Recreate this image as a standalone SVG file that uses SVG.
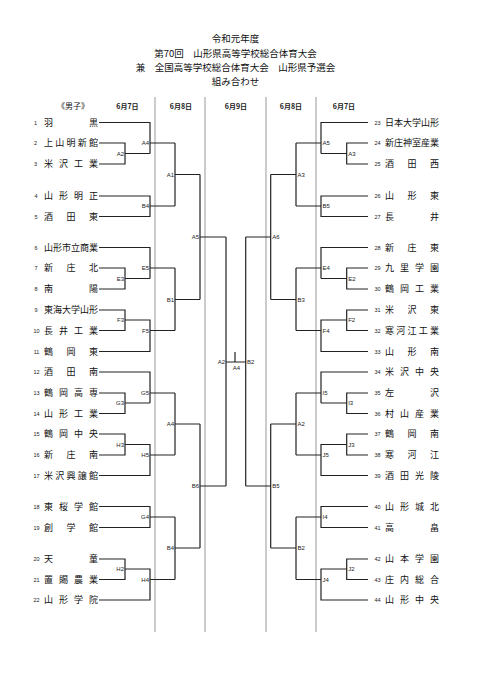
<svg xmlns="http://www.w3.org/2000/svg" width="481" height="680" viewBox="0 0 481 680">
<style>
.t{font-family:"Noto Sans CJK JP","Liberation Sans",sans-serif;font-size:9.5px;fill:#111;text-anchor:middle}
.h{font-family:"Noto Sans CJK JP","Liberation Sans",sans-serif;font-size:7px;font-weight:bold;fill:#222;text-anchor:middle}
.n{font-family:"Noto Sans CJK JP","Liberation Sans",sans-serif;font-size:9px;fill:#111}
.num{font-family:"Liberation Sans",sans-serif;font-size:5.5px;fill:#222;text-anchor:middle}
.l{font-family:"Liberation Sans",sans-serif;font-size:6px;fill:#222}
.le{text-anchor:end}
.sep{stroke:#aaa;stroke-width:1.2;fill:none}
.c{stroke:#222;stroke-width:1.2;fill:none}
</style>
<rect width="481" height="680" fill="#fff"/>
<g id="title">
<text class="t" x="235.5" y="41.6">令和元年度</text>
<text class="t" x="235.5" y="56.6">第70回　山形県高等学校総合体育大会</text>
<text class="t" x="235.5" y="71">兼　全国高等学校総合体育大会　山形県予選会</text>
<text class="t" x="235.5" y="85">組み合わせ</text>
</g>
<g id="headers">
<text class="n" x="57" y="109" style="font-size:8px">《男子》</text>
<text class="h" x="127.5" y="108.5">6月7日</text>
<text class="h" x="181" y="108.5">6月8日</text>
<text class="h" x="236" y="108.5">6月9日</text>
<text class="h" x="291" y="108.5">6月8日</text>
<text class="h" x="344" y="108.5">6月7日</text>
</g>
<g id="separators">
<path class="sep" d="M155,97V632M205,97V632M266,97V632M316,97V632"/>
</g>
<g id="connectors">
<path class="c" d="M99,122.5H150V153.5M99,143H125V164H99M125,153.5H150M150,143H175
M99,196H150V216.5H99M150,206H175M175,143V206M175,174.5H200
M99,247.5H150V278.5M99,268H125V289H99M125,278.5H150M150,268H175
M99,310H125V330.5H99M125,320H150V351.5H99M150,330.5H175
M175,268V330.5M175,299.5H200M200,174.5V299.5M200,237H226
M99,372H150V403M99,393H125V413.5H99M125,403H150M150,393H175
M99,434H125V455H99M125,444.5H150V475.5H99M150,455H175
M175,393V455M175,424H200
M99,506.5H150V527.5H99M150,517H175
M99,559H125V579.5H99M125,569H150V600H99M150,579.5H175
M175,517V579.5M175,548H200M200,424V548M200,486H226
M226,237V486M226,362H245.7M235,352V362M245.7,237V486"/>
<path class="c" d="M368,122.5H321V153.5M368,143H346.7V164H368M346.7,153.5H321M321,143H296
M368,196H321V216.5H368M321,206H296M296,143V206M296,174.5H270.7
M368,247.5H321V278.5M368,268H346.7V289H368M346.7,278.5H321M321,268H296
M368,310H346.7V330.5H368M346.7,320H321V351.5H368M321,330.5H296
M296,268V330.5M296,299.5H270.7M270.7,174.5V299.5M270.7,237H245.7
M368,372H321V403M368,393H346.7V413.5H368M346.7,403H321M321,393H296
M368,434H346.7V455H368M346.7,444.5H321V475.5H368M321,455H296
M296,393V455M296,424H270.7
M368,506.5H321V527.5H368M321,517H296
M368,559H346.7V579.5H368M346.7,569H321V600H368M321,579.5H296
M296,517V579.5M296,548H270.7M270.7,424V548M270.7,486H245.7"/>
</g>
<g id="match-labels">
<text class="l le" x="124" y="155.6">A2</text>
<text class="l le" x="149" y="145.1">A4</text>
<text class="l le" x="149" y="208.1">B4</text>
<text class="l le" x="174" y="176.6">A1</text>
<text class="l le" x="124" y="280.6">E3</text>
<text class="l le" x="149" y="270.1">E5</text>
<text class="l le" x="124" y="322.1">F3</text>
<text class="l le" x="149" y="332.6">F5</text>
<text class="l le" x="174" y="301.6">B1</text>
<text class="l le" x="199" y="239.1">A5</text>
<text class="l le" x="124" y="405.1">G3</text>
<text class="l le" x="149" y="395.1">G5</text>
<text class="l le" x="124" y="446.6">H3</text>
<text class="l le" x="149" y="457.1">H5</text>
<text class="l le" x="174" y="426.1">A4</text>
<text class="l le" x="149" y="519.1">G4</text>
<text class="l le" x="124" y="571.1">H2</text>
<text class="l le" x="149" y="581.6">H4</text>
<text class="l le" x="174" y="550.1">B4</text>
<text class="l le" x="199" y="488.1">B6</text>
<text class="l le" x="225" y="364.1">A2</text>
<text class="l" x="247" y="364.1">B2</text>
<text class="l" x="236.5" y="369.5" style="text-anchor:middle">A4</text>
<text class="l" x="348.2" y="156.1">A3</text>
<text class="l" x="322.5" y="145.1">A5</text>
<text class="l" x="322.5" y="208.1">B5</text>
<text class="l" x="297.5" y="176.6">A3</text>
<text class="l" x="348.2" y="280.6">E2</text>
<text class="l" x="322.5" y="270.1">E4</text>
<text class="l" x="348.2" y="322.1">F2</text>
<text class="l" x="322.5" y="332.6">F4</text>
<text class="l" x="297.5" y="301.6">B3</text>
<text class="l" x="272.2" y="239.1">A6</text>
<text class="l" x="348.2" y="405.1">I3</text>
<text class="l" x="322.5" y="395.1">I5</text>
<text class="l" x="348.2" y="446.6">J3</text>
<text class="l" x="322.5" y="457.1">J5</text>
<text class="l" x="297.5" y="426.1">A2</text>
<text class="l" x="322.5" y="519.1">I4</text>
<text class="l" x="348.2" y="571.1">J2</text>
<text class="l" x="322.5" y="581.6">J4</text>
<text class="l" x="297.5" y="550.1">B2</text>
<text class="l" x="272.2" y="488.1">B5</text>
</g>
<g id="team-1"><text class="num" x="35.5" y="124.5">1</text><text class="n" x="44 89" y="125.7">羽黒</text></g>
<g id="team-2"><text class="num" x="35.5" y="145">2</text><text class="n" x="44 55.25 66.5 77.75 89" y="146.2">上山明新館</text></g>
<g id="team-3"><text class="num" x="35.5" y="166">3</text><text class="n" x="44 59 74 89" y="167.2">米沢工業</text></g>
<g id="team-4"><text class="num" x="36" y="198">4</text><text class="n" x="44 59 74 89" y="199.2">山形明正</text></g>
<g id="team-5"><text class="num" x="36" y="218.5">5</text><text class="n" x="44 66.5 89" y="219.7">酒田東</text></g>
<g id="team-6"><text class="num" x="36" y="249.5">6</text><text class="n" x="44 53 62 71 80 89" y="250.7">山形市立商業</text></g>
<g id="team-7"><text class="num" x="36" y="270">7</text><text class="n" x="44 66.5 89" y="271.2">新庄北</text></g>
<g id="team-8"><text class="num" x="36" y="291">8</text><text class="n" x="44 89" y="292.2">南陽</text></g>
<g id="team-9"><text class="num" x="36" y="312">9</text><text class="n" x="44 53 62 71 80 89" y="313.2">東海大学山形</text></g>
<g id="team-10"><text class="num" x="36.5" y="332.5">10</text><text class="n" x="44 59 74 89" y="333.7">長井工業</text></g>
<g id="team-11"><text class="num" x="36.5" y="353.5">11</text><text class="n" x="44 66.5 89" y="354.7">鶴岡東</text></g>
<g id="team-12"><text class="num" x="36.5" y="374">12</text><text class="n" x="44 66.5 89" y="375.2">酒田南</text></g>
<g id="team-13"><text class="num" x="36.5" y="395">13</text><text class="n" x="44 59 74 89" y="396.2">鶴岡高専</text></g>
<g id="team-14"><text class="num" x="36.5" y="415.5">14</text><text class="n" x="44 59 74 89" y="416.7">山形工業</text></g>
<g id="team-15"><text class="num" x="36.5" y="436">15</text><text class="n" x="44 59 74 89" y="437.2">鶴岡中央</text></g>
<g id="team-16"><text class="num" x="36.5" y="457">16</text><text class="n" x="44 66.5 89" y="458.2">新庄南</text></g>
<g id="team-17"><text class="num" x="36.5" y="477.5">17</text><text class="n" x="44 55.25 66.5 77.75 89" y="478.7">米沢興譲館</text></g>
<g id="team-18"><text class="num" x="36.5" y="508.5">18</text><text class="n" x="44 59 74 89" y="509.7">東桜学館</text></g>
<g id="team-19"><text class="num" x="36.5" y="529.5">19</text><text class="n" x="44 66.5 89" y="530.7">創学館</text></g>
<g id="team-20"><text class="num" x="36.5" y="561">20</text><text class="n" x="44 89" y="562.2">天童</text></g>
<g id="team-21"><text class="num" x="36.5" y="581.5">21</text><text class="n" x="44 59 74 89" y="582.7">置賜農業</text></g>
<g id="team-22"><text class="num" x="36.5" y="602">22</text><text class="n" x="44 59 74 89" y="603.2">山形学院</text></g>
<g id="team-23"><text class="num" x="377.5" y="124.5">23</text><text class="n" x="385 394 403 412 421 430" y="125.7">日本大学山形</text></g>
<g id="team-24"><text class="num" x="377.5" y="145">24</text><text class="n" x="385 394 403 412 421 430" y="146.2">新庄神室産業</text></g>
<g id="team-25"><text class="num" x="377.5" y="166">25</text><text class="n" x="385 407.5 430" y="167.2">酒田西</text></g>
<g id="team-26"><text class="num" x="377.5" y="198">26</text><text class="n" x="385 407.5 430" y="199.2">山形東</text></g>
<g id="team-27"><text class="num" x="377.5" y="218.5">27</text><text class="n" x="385 430" y="219.7">長井</text></g>
<g id="team-28"><text class="num" x="377.5" y="249.5">28</text><text class="n" x="385 407.5 430" y="250.7">新庄東</text></g>
<g id="team-29"><text class="num" x="377.5" y="270">29</text><text class="n" x="385 400 415 430" y="271.2">九里学園</text></g>
<g id="team-30"><text class="num" x="377.5" y="291">30</text><text class="n" x="385 400 415 430" y="292.2">鶴岡工業</text></g>
<g id="team-31"><text class="num" x="377.5" y="312">31</text><text class="n" x="385 407.5 430" y="313.2">米沢東</text></g>
<g id="team-32"><text class="num" x="377.5" y="332.5">32</text><text class="n" x="385 396.25 407.5 418.75 430" y="333.7">寒河江工業</text></g>
<g id="team-33"><text class="num" x="377.5" y="353.5">33</text><text class="n" x="385 407.5 430" y="354.7">山形南</text></g>
<g id="team-34"><text class="num" x="377.5" y="374">34</text><text class="n" x="385 400 415 430" y="375.2">米沢中央</text></g>
<g id="team-35"><text class="num" x="377.5" y="395">35</text><text class="n" x="385 430" y="396.2">左沢</text></g>
<g id="team-36"><text class="num" x="377.5" y="415.5">36</text><text class="n" x="385 400 415 430" y="416.7">村山産業</text></g>
<g id="team-37"><text class="num" x="377.5" y="436">37</text><text class="n" x="385 407.5 430" y="437.2">鶴岡南</text></g>
<g id="team-38"><text class="num" x="377.5" y="457">38</text><text class="n" x="385 407.5 430" y="458.2">寒河江</text></g>
<g id="team-39"><text class="num" x="377.5" y="477.5">39</text><text class="n" x="385 400 415 430" y="478.7">酒田光陵</text></g>
<g id="team-40"><text class="num" x="377.5" y="508.5">40</text><text class="n" x="385 400 415 430" y="509.7">山形城北</text></g>
<g id="team-41"><text class="num" x="377.5" y="529.5">41</text><text class="n" x="385 430" y="530.7">高畠</text></g>
<g id="team-42"><text class="num" x="377.5" y="561">42</text><text class="n" x="385 400 415 430" y="562.2">山本学園</text></g>
<g id="team-43"><text class="num" x="377.5" y="581.5">43</text><text class="n" x="385 400 415 430" y="582.7">庄内総合</text></g>
<g id="team-44"><text class="num" x="377.5" y="602">44</text><text class="n" x="385 400 415 430" y="603.2">山形中央</text></g>
</svg>
